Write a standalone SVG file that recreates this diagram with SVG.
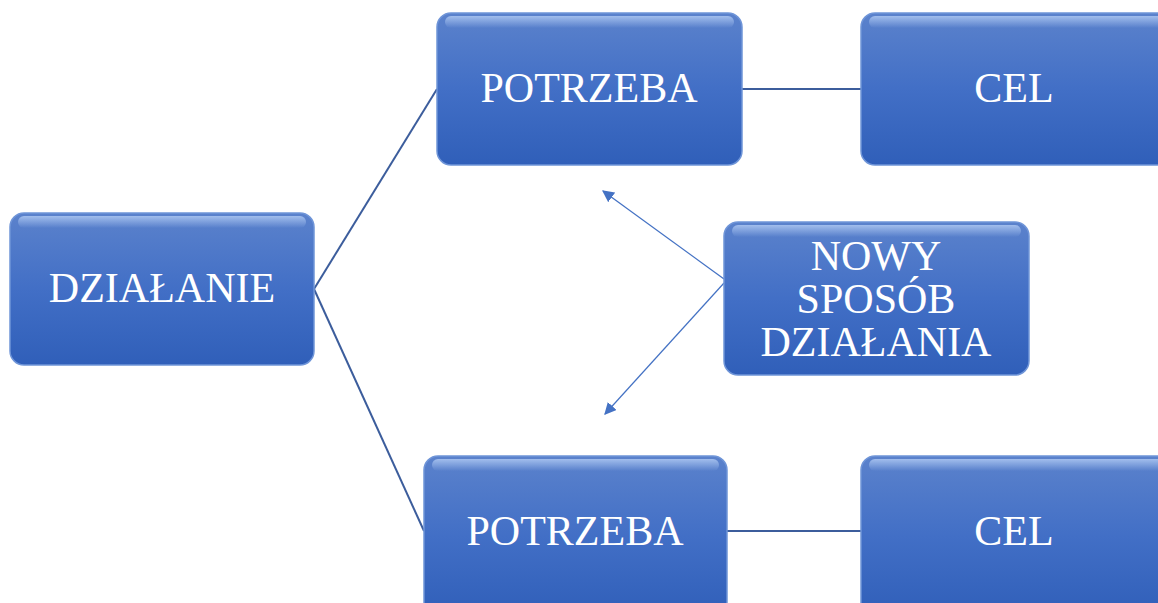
<svg xmlns="http://www.w3.org/2000/svg" width="1158" height="603" viewBox="0 0 1158 603">
<defs>
<linearGradient id="fill" x1="0" y1="0" x2="0" y2="1">
<stop offset="0" stop-color="#5b82cc"/>
<stop offset="0.5" stop-color="#426fc6"/>
<stop offset="1" stop-color="#305fb9"/>
</linearGradient>
<linearGradient id="gloss" x1="0" y1="0" x2="0" y2="1">
<stop offset="0" stop-color="#a9c4f0" stop-opacity="0.9"/>
<stop offset="1" stop-color="#a9c4f0" stop-opacity="0"/>
</linearGradient>
<marker id="arr" viewBox="0 0 10 10" refX="9" refY="5" markerWidth="12" markerHeight="12" markerUnits="userSpaceOnUse" orient="auto">
<path d="M0,0 L10,5 L0,10 z" fill="#4472c4"/>
</marker>
</defs>
<style>
.box{fill:url(#fill);stroke:#6f95d8;stroke-width:1.5}
.gl{fill:url(#gloss)}
.t{font-family:"Liberation Serif","Times New Roman",serif;font-size:42px;fill:#ffffff;text-anchor:middle}
.c{stroke:#3c5d9c;stroke-width:2;fill:none}
.a{stroke:#4472c4;stroke-width:1.2;fill:none;marker-end:url(#arr)}
</style>
<rect width="1158" height="603" fill="#ffffff"/>
<g id="connectors">
<path class="c" d="M314,289 L437,89"/>
<path class="c" d="M314,289 L424,531"/>
<path class="c" d="M742,89 L861,89"/>
<path class="c" d="M727,531 L861,531"/>
<path class="a" d="M724,279 L603,191"/>
<path class="a" d="M724,283 L605,414"/>
</g>
<g id="dzialanie">
<rect class="box" x="10" y="213" width="304" height="152" rx="14"/>
<rect class="gl" x="18" y="216" width="288" height="12" rx="6"/>
<text class="t" x="162" y="302">DZIAŁANIE</text>
</g>
<g id="potrzeba1">
<rect class="box" x="437" y="13" width="305" height="152" rx="14"/>
<rect class="gl" x="445" y="16" width="289" height="12" rx="6"/>
<text class="t" x="589" y="102">POTRZEBA</text>
</g>
<g id="cel1">
<rect class="box" x="861" y="13" width="310" height="152" rx="14"/>
<rect class="gl" x="869" y="16" width="300" height="12" rx="6"/>
<text class="t" x="1014" y="102">CEL</text>
</g>
<g id="nowy">
<rect class="box" x="724" y="222" width="305" height="153" rx="14"/>
<rect class="gl" x="732" y="225" width="289" height="12" rx="6"/>
<text class="t" x="876" y="270">NOWY</text>
<text class="t" x="876" y="313">SPOSÓB</text>
<text class="t" x="876" y="356">DZIAŁANIA</text>
</g>
<g id="potrzeba2">
<rect class="box" x="424" y="456" width="303" height="160" rx="14"/>
<rect class="gl" x="432" y="459" width="287" height="12" rx="6"/>
<text class="t" x="575" y="545">POTRZEBA</text>
</g>
<g id="cel2">
<rect class="box" x="861" y="456" width="310" height="160" rx="14"/>
<rect class="gl" x="869" y="459" width="300" height="12" rx="6"/>
<text class="t" x="1014" y="545">CEL</text>
</g>
</svg>
